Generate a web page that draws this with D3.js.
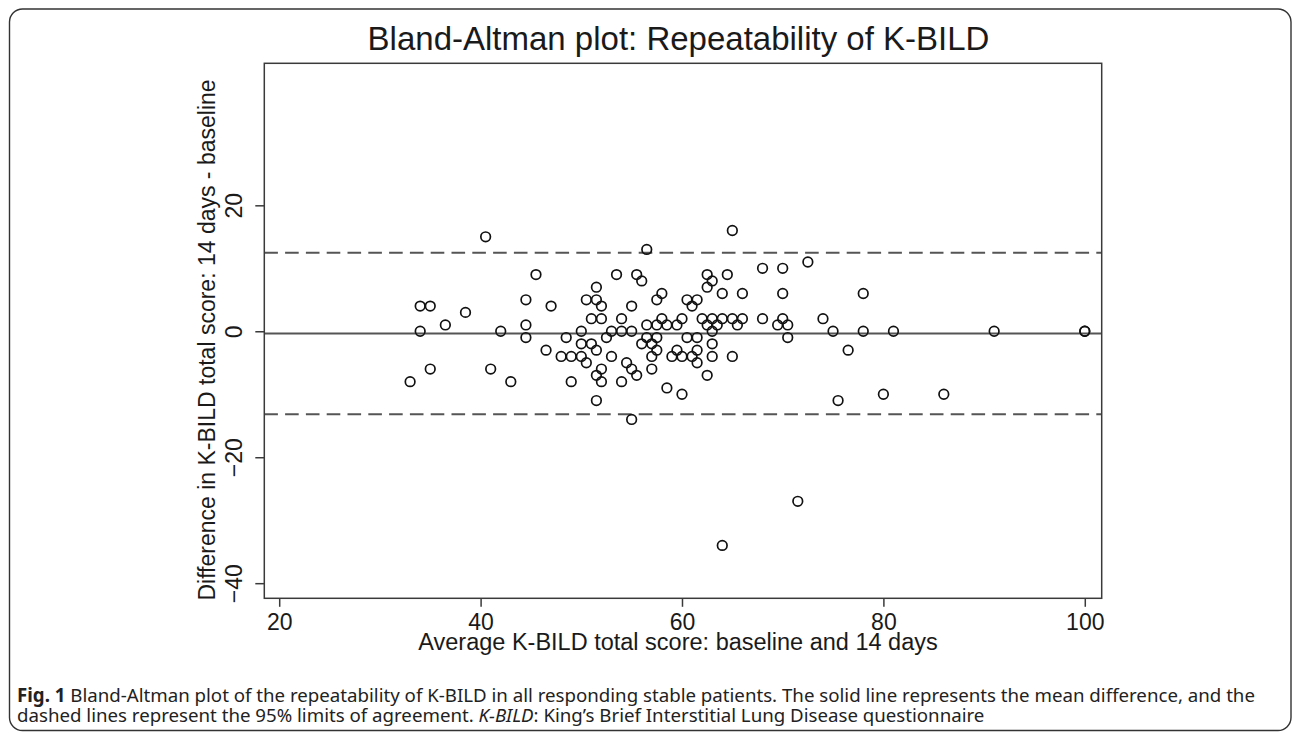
<!DOCTYPE html>
<html>
<head>
<meta charset="utf-8">
<script src="https://cdn.jsdelivr.net/npm/d3@7"></script>
<style>
  html, body { margin: 0; padding: 0; background: #fff; }
  svg { display: block; }
</style>
</head>
<body>
<svg id="chart" width="1292" height="732"></svg>
<script>
// ---- data ----
const avgScore = [33,34,35,34,36.5,38.5,35,40.5,41,42,43,44.5,44.5,44.5,45.5,46.5,47,48,48.5,49,49,
  50,50,50,50.5,50.5,51,51,51.5,51.5,51.5,51.5,51.5,52,52,52,52,52.5,53,53,53.5,54,54,54,54.5,
  55,55,55,55,55.5,55.5,56,56,56.5,56.5,56.5,57,57,57,57.5,57.5,57.5,57.5,58,58,58.5,58.5,59,59.5,59.5,
  60,60,60,60.5,60.5,61,61,61.5,61.5,61.5,61.5,62,62.5,62.5,62.5,62.5,63,63,63,63,63,63.5,64,64,64,64.5,
  65,65,65,65.5,66,66,68,68,69.5,70,70,70,70.5,70.5,71.5,72.5,74,75,75.5,76.5,78,78,80,81,86,91,100,100];
const diffScore = [-8,4,4,0,1,3,-6,15,-6,0,-8,5,1,-1,9,-3,4,-4,-1,-4,-8,
  0,-2,-4,5,-5,2,-2,7,5,-3,-7,-11,4,2,-6,-8,-1,0,-4,9,2,0,-8,-5,
  4,0,-6,-14,9,-7,8,-2,13,1,-1,-2,-4,-6,5,1,-1,-3,6,2,1,-9,-4,1,-3,
  2,-4,-10,5,-1,4,-4,5,-1,-3,-5,2,9,7,1,-7,8,2,0,-2,-4,1,6,2,-34,9,
  16,2,-4,1,6,2,10,2,1,10,6,2,1,-1,-27,11,2,0,-11,-3,6,0,-10,0,-10,0,0,0];
const meanDiff = -0.36;
const limitsOfAgreement = [12.46, -13.18];
const xTicks = [20, 40, 60, 80, 100];
const yTicks = [-40, -20, 0, 20];
const titleText = "Bland-Altman plot: Repeatability of K-BILD";
const xTitle = "Average K-BILD total score: baseline and 14 days";
const yTitle = "Difference in K-BILD total score: 14 days - baseline";

// ---- drawing ----
const svg = d3.select("#chart");
const plot = { left: 264.3, right: 1101.7, top: 63.3, bottom: 598.3 };
const x = d3.scaleLinear().domain([18.52, 101.68]).range([plot.left, plot.right]);
const y = d3.scaleLinear().domain([-42.4, 42.55]).range([plot.bottom, plot.top]);
const ink = "#1a1a1a";
const sans = "'Liberation Sans', Arial, Helvetica, sans-serif";

// outer frame
svg.append("rect")
  .attr("x", 9.5).attr("y", 9).attr("width", 1281.5).attr("height", 721.5)
  .attr("rx", 13).attr("ry", 13)
  .attr("fill", "none").attr("stroke", "#333").attr("stroke-width", 1.4);

// title
svg.append("text")
  .attr("x", 678.5).attr("y", 49.5)
  .attr("text-anchor", "middle")
  .attr("font-family", sans).attr("font-size", 33)
  .attr("fill", ink)
  .text(titleText);

// reference lines
const refG = svg.append("g");
refG.append("line")
  .attr("x1", plot.left).attr("x2", plot.right)
  .attr("y1", y(meanDiff)).attr("y2", y(meanDiff))
  .attr("stroke", "#555").attr("stroke-width", 2);
refG.selectAll("line.loa").data(limitsOfAgreement).join("line")
  .attr("class", "loa")
  .attr("x1", plot.left).attr("x2", plot.right)
  .attr("y1", d => y(d)).attr("y2", d => y(d))
  .attr("stroke", "#555").attr("stroke-width", 2)
  .attr("stroke-dasharray", "13.6,7.2");

// points
svg.append("g").selectAll("circle")
  .data(avgScore.map((a, i) => ({ a, d: diffScore[i] })))
  .join("circle")
  .attr("cx", p => x(p.a)).attr("cy", p => y(p.d))
  .attr("r", 4.8)
  .attr("fill", "none").attr("stroke", "#111").attr("stroke-width", 1.7);

// plot box
svg.append("rect")
  .attr("x", plot.left).attr("y", plot.top)
  .attr("width", plot.right - plot.left).attr("height", plot.bottom - plot.top)
  .attr("fill", "none").attr("stroke", "#3a3a3a").attr("stroke-width", 1.5);

// x axis
const xAxis = svg.append("g")
  .attr("transform", `translate(0,${plot.bottom})`)
  .call(d3.axisBottom(x).tickValues(xTicks).tickSize(8.5).tickPadding(6).tickFormat(d3.format("d")));
xAxis.select(".domain").remove();
xAxis.selectAll(".tick line").attr("stroke", "#3a3a3a").attr("stroke-width", 1.5);
xAxis.selectAll(".tick text")
  .attr("font-family", sans).attr("font-size", 23).attr("fill", ink)
  .attr("dy", null).attr("y", 31.5);

// y axis
const yAxis = svg.append("g")
  .attr("transform", `translate(${plot.left},0)`)
  .call(d3.axisLeft(y).tickValues(yTicks).tickSize(9).tickFormat(d3.format("d")));
yAxis.select(".domain").remove();
yAxis.selectAll(".tick line").attr("stroke", "#3a3a3a").attr("stroke-width", 1.5);
yAxis.selectAll(".tick text")
  .attr("font-family", sans).attr("font-size", 23).attr("fill", ink)
  .attr("x", null).attr("dy", null)
  .attr("text-anchor", "middle")
  .attr("transform", "translate(-22.5,0) rotate(-90)");

// axis titles
svg.append("text")
  .attr("x", 678).attr("y", 650)
  .attr("text-anchor", "middle")
  .attr("font-family", sans).attr("font-size", 23.5).attr("fill", ink)
  .text(xTitle);
svg.append("text")
  .attr("transform", "translate(215,340) rotate(-90)")
  .attr("text-anchor", "middle")
  .attr("font-family", sans).attr("font-size", 23).attr("fill", ink)
  .text(yTitle);

// caption: one font size for both lines, fitted so line 1 spans the frame
const capFont = "'Noto Sans', 'Open Sans', sans-serif";
const cap1 = svg.append("text")
  .attr("x", 17).attr("y", 702)
  .attr("font-family", capFont).attr("font-size", 16).attr("fill", "#222");
cap1.append("tspan").attr("font-weight", "bold").text("Fig. 1");
cap1.append("tspan").text(" Bland-Altman plot of the repeatability of K-BILD in all responding stable patients. The solid line represents the mean difference, and the");
const cap2 = svg.append("text")
  .attr("x", 17).attr("y", 722)
  .attr("font-family", capFont).attr("font-size", 16).attr("fill", "#222");
cap2.append("tspan").text("dashed lines represent the 95% limits of agreement. ");
cap2.append("tspan").attr("font-style", "italic").text("K-BILD");
cap2.append("tspan").text(": King’s Brief Interstitial Lung Disease questionnaire");
const w1 = cap1.node().getComputedTextLength();
const capSize = 16 * 1239 / w1;
cap1.attr("font-size", capSize);
cap2.attr("font-size", capSize);
</script>
</body>
</html>
